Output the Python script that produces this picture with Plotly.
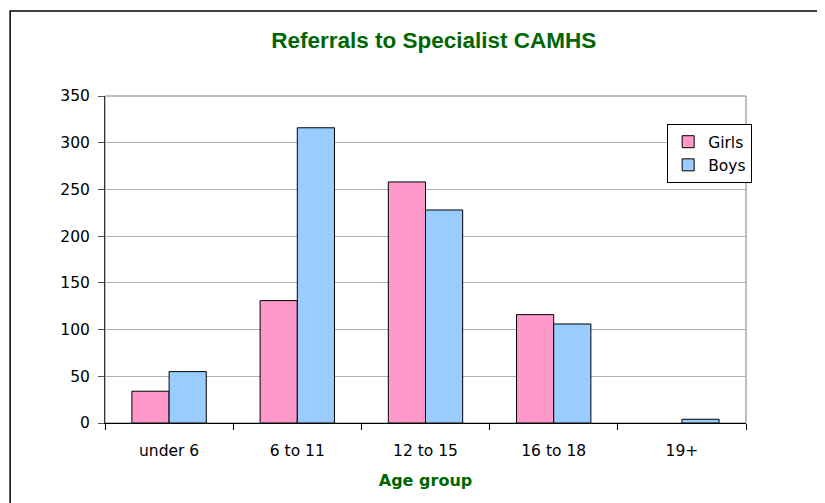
import plotly.graph_objects as go

categories = ["under 6", "6 to 11", "12 to 15", "16 to 18", "19+"]
girls = [34, 131, 258, 116, 0]
boys = [55, 316, 228, 106, 4]
y_ticks = [0, 50, 100, 150, 200, 250, 300, 350]

fig = go.Figure()
fig.add_trace(go.Bar(name="Girls", x=categories, y=girls,
                     marker=dict(color="#FF99CC",
                                 line=dict(color="black", width=[0 if v == 0 else 1 for v in girls]))))
fig.add_trace(go.Bar(name="Boys", x=categories, y=boys,
                     marker=dict(color="#99CCFF",
                                 line=dict(color="black", width=[0 if v == 0 else 1 for v in boys]))))

font_fam = "DejaVu Sans, Verdana, sans-serif"
fig.update_layout(
    width=825, height=503,
    margin=dict(l=97, r=87, t=88, b=88),
    paper_bgcolor="white", plot_bgcolor="white",
    barmode="group", bargap=0.42, bargroupgap=0,
    title=dict(text="<b>Referrals to Specialist CAMHS</b>", x=0.516, xanchor="center",
               y=0.936, yanchor="middle",
               font=dict(family="Liberation Sans, Arial, sans-serif", size=22.5, color="#006600")),
    font=dict(family=font_fam, size=15.5, color="black"),
    legend=dict(x=0.877, y=0.914, xanchor="left", yanchor="top",
                bordercolor="black", borderwidth=1, bgcolor="white",
                font=dict(family=font_fam, size=15.5), tracegroupgap=0,
                itemwidth=30),
    showlegend=True,
)
fig.update_xaxes(
    showline=True, linecolor="black", linewidth=1,
    ticks="outside", ticklen=6, tickcolor="black", tickson="boundaries",
    ticklabelstandoff=13,
    showgrid=False,
    title=dict(text="<b>Age group</b>", standoff=16,
               font=dict(family=font_fam, size=16, color="#006600")),
)
fig.update_yaxes(
    range=[0, 350], tickvals=y_ticks,
    showline=True, linecolor="#333333", linewidth=1,
    ticks="outside", ticklen=6, tickcolor="#555555",
    ticklabelstandoff=5,
    showgrid=True, gridcolor="#B0B0B0", gridwidth=1,
    zeroline=False,
)
# plot area border (gray top/right)
fig.add_shape(type="rect", xref="paper", yref="paper", x0=0, x1=1, y0=0, y1=1,
              line=dict(color="#808080", width=1), layer="below")
# outer chart border
fig.add_shape(type="rect", xref="paper", yref="paper", x0=-0.148, x1=1.115, y0=-0.3, y1=1.26,
              line=dict(color="black", width=1.5), layer="below")

fig.write_html("out.html")
